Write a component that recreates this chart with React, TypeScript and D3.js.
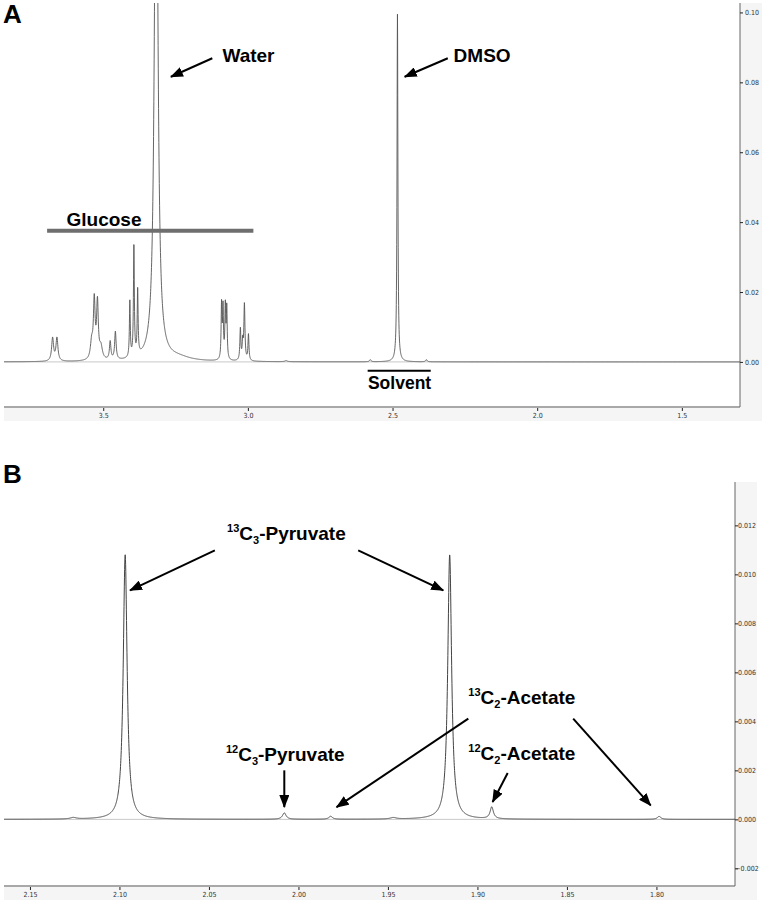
import React, { useEffect, useRef } from 'react';
import * as d3 from 'd3';

// peaks: [ppm, height, half width (ppm)]
const peaksA: [number, number, number][] = [
  [3.675, 0.0066, 0.004],
  [3.660, 0.0066, 0.004],
  [3.540, 0.0048, 0.005],
  [3.531, 0.0165, 0.0035],
  [3.520, 0.0160, 0.0035],
  [3.508, 0.0035, 0.006],
  [3.476, 0.0052, 0.003],
  [3.458, 0.0080, 0.003],
  [3.408, 0.0160, 0.0018],
  [3.394, 0.0320, 0.0018],
  [3.381, 0.0185, 0.0018],
  [3.317, 0.178, 0.0068],
  [3.240, 0.0010, 0.05],
  [3.091, 0.0155, 0.0018],
  [3.086, 0.0145, 0.0018],
  [3.078, 0.0150, 0.0018],
  [3.073, 0.0145, 0.0018],
  [3.026, 0.0090, 0.002],
  [3.018, 0.0050, 0.002],
  [3.012, 0.0160, 0.0022],
  [2.998, 0.0075, 0.002],
  [2.868, 0.0003, 0.005],
  [2.577, 0.0006, 0.003],
  [2.483, 0.0995, 0.0018],
  [2.383, 0.0006, 0.003],
];

const peaksB: [number, number, number][] = [
  [2.1258, 0.00006, 0.002],
  [2.0968, 0.0108, 0.0013],
  [2.0079, 0.00026, 0.0012],
  [1.982, 0.00012, 0.0012],
  [1.947, 0.00006, 0.002],
  [1.9155, 0.0108, 0.0013],
  [1.892, 0.00048, 0.0011],
  [1.7985, 0.00012, 0.0012],
];

const ppmTicksA = [3.5, 3.0, 2.5, 2.0, 1.5];
const intTicksA = [0, 0.02, 0.04, 0.06, 0.08, 0.1];
const ppmTicksB = [2.15, 2.1, 2.05, 2.0, 1.95, 1.9, 1.85, 1.8];
const intTicksB = [-0.002, 0, 0.002, 0.004, 0.006, 0.008, 0.01, 0.012];

// annotation arrows: [tailPpm, tailVal, tipPpm, tipVal]
const arrowsA: [number, number, number, number][] = [
  [3.123, 0.0869, 3.266, 0.0816],
  [2.309, 0.0869, 2.458, 0.0816],
];
const arrowsB: [number, number, number, number][] = [
  [2.0467, 0.01098, 2.0941, 0.00935],
  [1.9666, 0.01098, 1.9191, 0.00935],
  [2.0079, 0.0020, 2.0079, 0.0005],
  [1.9051, 0.00411, 1.9787, 0.0005],
  [1.8465, 0.00411, 1.8032, 0.00057],
  [1.8831, 0.00189, 1.8915, 0.00071],
];

const FONT = '"Liberation Sans", Arial, sans-serif';
const TICK_FONT = '"DejaVu Sans Condensed", "DejaVu Sans", sans-serif';

const spectrum = (peaks: [number, number, number][], from: number, to: number, n: number) =>
  d3.range(n + 1).map(i => {
    const p = from + (to - from) * i / n;
    let v = 0;
    for (const [c, h, w] of peaks) v += h * w * w / (w * w + (p - c) * (p - c));
    return [p, v] as [number, number];
  });

const Axes = ({ x, y, xTicks, yTicks, xFmt, yFmt }: any) => {
  const bRef = useRef<SVGGElement>(null);
  const rRef = useRef<SVGGElement>(null);
  const [x0, x1] = x.range();
  const [y0, y1] = y.range();
  useEffect(() => {
    const b = d3.select(bRef.current);
    b.call(d3.axisBottom(x).tickValues(xTicks).tickSize(3).tickPadding(2).tickFormat(d3.format(xFmt)) as any);
    b.select('.domain').remove();
    b.selectAll('line').attr('stroke', '#222');
    b.selectAll('text').attr('font-size', 7).attr('fill', '#333').attr('font-family', TICK_FONT);
    const r = d3.select(rRef.current);
    r.call(d3.axisRight(y).tickValues(yTicks).tickSize(3).tickFormat(d3.format(yFmt)) as any);
    r.select('.domain').remove();
    r.selectAll('line').attr('stroke', '#222');
    r.selectAll('text').attr('x', 12).attr('text-anchor', 'middle')
      .attr('font-size', 7).attr('fill', '#333').attr('font-family', TICK_FONT);
  });
  return (
    <g>
      <rect x={x0} y={y1} width={x1 - x0 + 22} height={y0 - y1 + 14} fill="#f5f5f5" />
      <rect x={x0} y={y1} width={x1 - x0} height={y0 - y1} fill="#fff" />
      <line x1={x0} x2={x1} y1={y(0)} y2={y(0)} stroke="#c8c8c8" strokeWidth={1} />
      <line x1={x0} x2={x1} y1={y0} y2={y0} stroke="#a8a8a8" strokeWidth={2} />
      <line x1={x1} x2={x1} y1={y1} y2={y0} stroke="#666" strokeWidth={1} />
      <g ref={bRef} transform={`translate(0,${y0 + 1})`} />
      <g ref={rRef} transform={`translate(${x1},0)`} />
    </g>
  );
};

const Arrow = ({ a, x, y }: any) => (
  <line x1={x(a[0])} y1={y(a[1])} x2={x(a[2])} y2={y(a[3])}
    stroke="#000" strokeWidth={2} markerEnd="url(#head)" />
);

const Iso = ({ x, y, mass, n, rest }: any) => (
  <text x={x} y={y} fontFamily={FONT} fontWeight="bold" fontSize={19} fill="#000">
    <tspan fontSize={11} dy={-8}>{mass}</tspan>
    <tspan dy={8}>C</tspan>
    <tspan fontSize={11} dy={4}>{n}</tspan>
    <tspan dy={-4}>{rest}</tspan>
  </text>
);

export default function App() {
  const xA = d3.scaleLinear().domain([3.843, 1.299]).range([4, 740]);
  const yA = d3.scaleLinear().domain([-0.0129, 0.1027]).range([407, 3]);
  const xB = d3.scaleLinear().domain([2.1645, 1.7561]).range([4, 735]);
  const yB = d3.scaleLinear().domain([-0.00272, 0.01377]).range([886, 482]);

  const lineA = d3.line<[number, number]>().x(d => xA(d[0])).y(d => yA(d[1]));
  const lineB = d3.line<[number, number]>().x(d => xB(d[0])).y(d => yB(d[1]));
  const dataA = spectrum(peaksA, 3.843, 1.299, 5000);
  const dataB = spectrum(peaksB, 2.1645, 1.7561, 5000);

  const label = { fontFamily: FONT, fontWeight: 'bold' as const, fill: '#000' };

  return (
    <svg width={762} height={902} style={{ position: 'absolute', left: 0, top: 0, background: '#fff' }}>
      <defs>
        <marker id="head" markerUnits="userSpaceOnUse" markerWidth={14} markerHeight={10}
          refX={12} refY={5} orient="auto">
          <path d="M0,0 L13,5 L0,10 Z" fill="#000" />
        </marker>
        <clipPath id="clipA"><rect x={4} y={3} width={736} height={404} /></clipPath>
        <clipPath id="clipB"><rect x={4} y={482} width={731} height={404} /></clipPath>
      </defs>

      {/* Panel A */}
      <Axes x={xA} y={yA} xTicks={ppmTicksA} yTicks={intTicksA} xFmt=".1f" yFmt=".2f" />
      <path d={lineA(dataA) ?? ''} fill="none" stroke="#555" strokeWidth={0.9} clipPath="url(#clipA)" />
      <text x={3} y={23} fontSize={26} {...label}>A</text>
      <line x1={xA(3.694)} x2={xA(2.981)} y1={yA(0.0375)} y2={yA(0.0375)} stroke="#6e6e6e" strokeWidth={4} />
      <text x={xA(3.627)} y={yA(0.039)} fontSize={19} {...label}>Glucose</text>
      <text x={xA(3.088)} y={yA(0.0859)} fontSize={19} {...label}>Water</text>
      <text x={xA(2.289)} y={yA(0.0859)} fontSize={19} {...label}>DMSO</text>
      <line x1={xA(2.586)} x2={xA(2.368)} y1={yA(-0.0025)} y2={yA(-0.0025)} stroke="#000" strokeWidth={2} />
      <text x={xA(2.585)} y={yA(-0.0078)} fontSize={17.5} {...label}>Solvent</text>
      {arrowsA.map((a, i) => <Arrow key={i} a={a} x={xA} y={yA} />)}

      {/* Panel B */}
      <Axes x={xB} y={yB} xTicks={ppmTicksB} yTicks={intTicksB} xFmt=".2f" yFmt=".3f" />
      <path d={lineB(dataB) ?? ''} fill="none" stroke="#444" strokeWidth={1} clipPath="url(#clipB)" />
      <text x={3} y={483} fontSize={26} {...label}>B</text>
      <Iso x={xB(2.0399)} y={yB(0.01139)} mass="13" n="3" rest="-Pyruvate" />
      <Iso x={xB(2.0405)} y={yB(0.00237)} mass="12" n="3" rest="-Pyruvate" />
      <Iso x={xB(1.9051)} y={yB(0.00472)} mass="13" n="2" rest="-Acetate" />
      <Iso x={xB(1.9051)} y={yB(0.00241)} mass="12" n="2" rest="-Acetate" />
      {arrowsB.map((a, i) => <Arrow key={i} a={a} x={xB} y={yB} />)}
    </svg>
  );
}
